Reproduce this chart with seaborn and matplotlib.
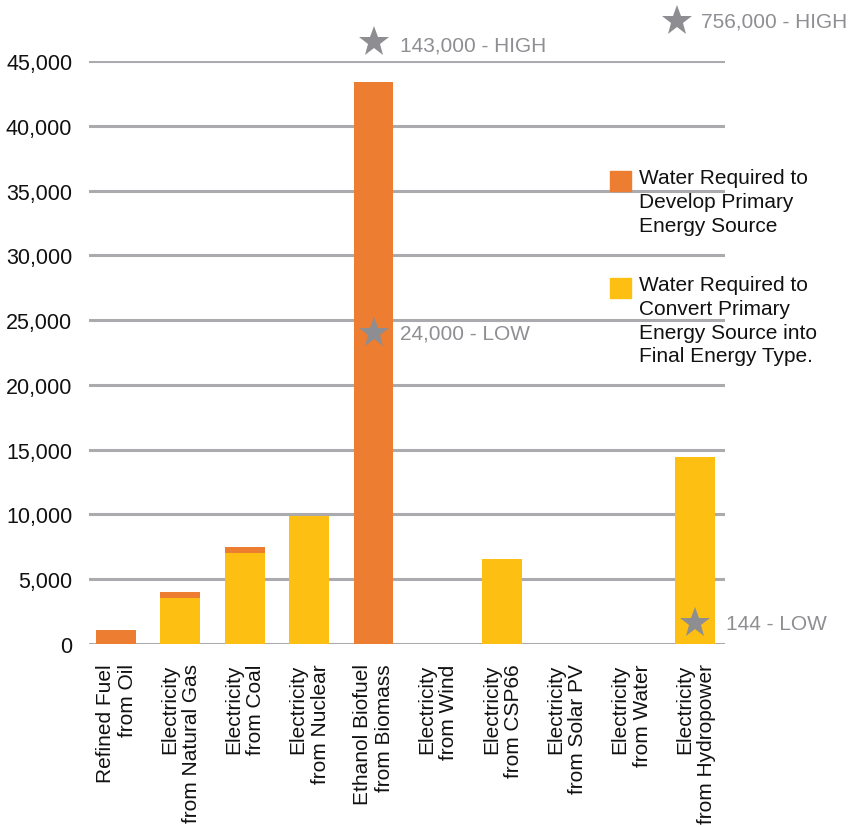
import matplotlib
matplotlib.use("Agg")
import matplotlib.pyplot as plt
import matplotlib.transforms as mtransforms
from matplotlib.patches import Rectangle
import seaborn as sns
import pandas as pd

sns.set_theme(style="white")
plt.rcParams["font.family"] = ["Liberation Sans", "DejaVu Sans"]

# Gallons of water per unit of final energy, by source
categories = [
    "Refined Fuel\nfrom Oil",
    "Electricity\nfrom Natural Gas",
    "Electricity\nfrom Coal",
    "Electricity\nfrom Nuclear",
    "Ethanol Biofuel\nfrom Biomass",
    "Electricity\nfrom Wind",
    "Electricity\nfrom CSP66",
    "Electricity\nfrom Solar PV",
    "Electricity\nfrom Water",
    "Electricity\nfrom Hydropower",
]
develop = [1100, 450, 500, 0, 43400, 0, 0, 0, 0, 0]
convert = [0, 3550, 7000, 9900, 0, 0, 6550, 0, 0, 14450]
yticks = [0, 5000, 10000, 15000, 20000, 25000, 30000, 35000, 40000, 45000]

# Range markers: (category index, value, label)
biomass_low = (4, 24000, "24,000 - LOW")
biomass_high = (4, 143000, "143,000 - HIGH")
hydro_low = (9, 144, "144 - LOW")
hydro_high = (9, 756000, "756,000 - HIGH")

ORANGE = "#ED7D31"
YELLOW = "#FDBF12"
GRID = "#ABABAF"
STAR = "#8D8D92"
NOTE = "#8E8E93"

df = pd.DataFrame({
    "source": categories,
    "develop": develop,
    "convert": convert,
})
df["total"] = df["develop"] + df["convert"]

fig = plt.figure(figsize=(8.51, 8.28), dpi=100)
ax = fig.add_axes([89 / 851, 1 - 645 / 828, 636 / 851, 583 / 828])

sns.barplot(data=df, x="source", y="total", order=categories, color=ORANGE,
            saturation=1, width=0.62, linewidth=0, ax=ax, zorder=2)
sns.barplot(data=df, x="source", y="convert", order=categories, color=YELLOW,
            saturation=1, width=0.62, linewidth=0, ax=ax, zorder=3)

ax.set_xlim(-0.42, 9.46)
ax.set_ylim(0, 45000)
ax.set_yticks(yticks)
ax.set_yticklabels([f"{v:,}" for v in yticks], fontsize=15.5, color="#111111")
ax.set_xlabel("")
ax.set_ylabel("")
ax.set_xticks(range(len(categories)))
ax.set_xticklabels(categories, rotation=90, fontsize=15, color="#111111",
                   ha="center", va="top", multialignment="right")
ax.tick_params(axis="y", length=0, pad=12)
ax.tick_params(axis="x", length=0, pad=14)
for s in ax.spines.values():
    s.set_visible(False)
ax.set_axisbelow(True)
ax.yaxis.grid(True, color=GRID, linewidth=2.2)
ax.xaxis.grid(False)

star_kw = dict(marker="*", markersize=23, color=STAR, markeredgewidth=0,
               linestyle="none", zorder=5, clip_on=False)
note_kw = dict(fontsize=15, color=NOTE, va="center", ha="left",
               textcoords="offset points", annotation_clip=False, zorder=5)

# Low value inside the biomass bar
x, v, lab = biomass_low
ax.plot([x], [v], **star_kw)
ax.annotate(lab, (x, v), xytext=(19, 0), **note_kw)

# Off-scale highs sit above the plotting area
top = mtransforms.blended_transform_factory(ax.transData, ax.transAxes)
x, v, lab = biomass_high
ax.plot([x], [1.0326], transform=top, **star_kw)
ax.annotate(lab, (x, 1.0326), xycoords=top, xytext=(19, -2), **note_kw)

x, v, lab = hydro_high
ax.plot([x - 0.28], [1.0686], transform=top, **star_kw)
ax.annotate(lab, (x - 0.28, 1.0686), xycoords=top, xytext=(17, 0), **note_kw)

# Hydropower low value, lifted just off the baseline so it stays visible
x, v, lab = hydro_low
lift = mtransforms.ScaledTranslation(0, 0.19, fig.dpi_scale_trans)
ax.plot([x], [v], transform=ax.transData + lift, **star_kw)
ax.annotate(lab, (x, v), xycoords=ax.transData + lift, xytext=(22, 0), **note_kw)

# Legend
legend_items = [
    (ORANGE, "Water Required to\nDevelop Primary\nEnergy Source", 172),
    (YELLOW, "Water Required to\nConvert Primary\nEnergy Source into\nFinal Energy Type.", 279),
]
for color, text, ytop in legend_items:
    fig.patches.append(Rectangle((610 / 851, 1 - (ytop + 20) / 828), 21 / 851, 20 / 828,
                                 transform=fig.transFigure, color=color, zorder=6))
    fig.text(639 / 851, 1 - (ytop - 3) / 828, text, fontsize=15, color="#111111",
             va="top", ha="left", linespacing=1.32)

fig.savefig("out.png", dpi=100)
